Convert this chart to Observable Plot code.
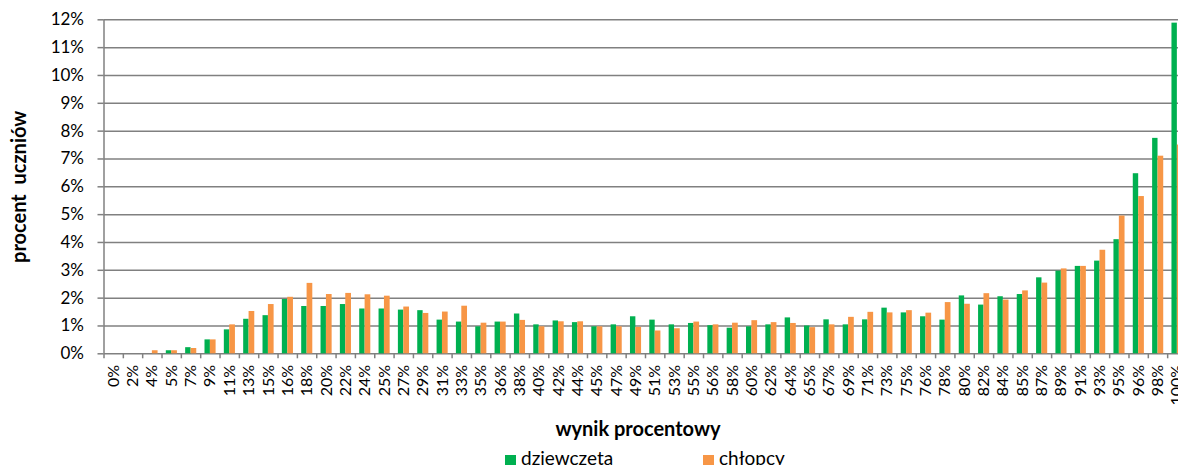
<!DOCTYPE html>
<html>
<head>
<meta charset="utf-8">
<script src="https://cdn.jsdelivr.net/npm/d3@7"></script>
<script src="https://cdn.jsdelivr.net/npm/@observablehq/plot@0.6"></script>
<style>
  html, body { margin: 0; padding: 0; background: #fff; overflow: hidden; width: 1178px; height: 465px; }
  body { font-family: Lato, "Open Sans", sans-serif; position: relative; }
  #chart svg { display: block; max-width: none; }
  .leg { position: absolute; top: 446px; font-size: 19px; color: #000; white-space: nowrap; }
  .leg i { display: inline-block; width: 11px; height: 11px; margin-right: 5px; vertical-align: -1px; }
</style>
</head>
<body>
<div id="chart"></div>
<div class="leg" style="left:505px"><i style="background:#00B050"></i>dziewczeta</div>
<div class="leg" style="left:703px"><i style="background:#F79646"></i>chłopcy</div>
<script>
// ---- data ----
const categories = ["0%","2%","4%","5%","7%","9%","11%","13%","15%","16%","18%","20%","22%","24%","25%","27%","29%","31%","33%","35%","36%","38%","40%","42%","44%","45%","47%","49%","51%","53%","55%","56%","58%","60%","62%","64%","65%","67%","69%","71%","73%","75%","76%","78%","80%","82%","84%","85%","87%","89%","91%","93%","95%","96%","98%","100%"];
const dziewczeta = [0, 0, 0, 0.11, 0.22, 0.50, 0.86, 1.24, 1.37, 1.95, 1.70, 1.70, 1.77, 1.61, 1.61, 1.57, 1.55, 1.21, 1.14, 0.97, 1.14, 1.43, 1.04, 1.18, 1.12, 0.97, 1.04, 1.33, 1.21, 1.04, 1.09, 1.01, 0.92, 0.97, 1.04, 1.29, 1.00, 1.22, 1.04, 1.22, 1.64, 1.47, 1.33, 1.21, 2.08, 1.75, 2.05, 2.13, 2.73, 2.97, 3.14, 3.33, 4.10, 6.47, 7.74, 11.88];
const chlopcy = [0, 0, 0.11, 0.11, 0.19, 0.50, 1.04, 1.52, 1.77, 2.03, 2.53, 2.13, 2.17, 2.12, 2.07, 1.68, 1.45, 1.50, 1.71, 1.10, 1.14, 1.20, 0.97, 1.15, 1.15, 0.97, 0.97, 0.95, 0.82, 0.90, 1.14, 1.04, 1.10, 1.19, 1.12, 1.09, 0.94, 1.04, 1.31, 1.49, 1.47, 1.55, 1.46, 1.84, 1.78, 2.16, 1.93, 2.26, 2.54, 3.05, 3.14, 3.72, 4.95, 5.65, 7.10, 7.50];
const yTicks = [0,1,2,3,4,5,6,7,8,9,10,11,12];
const seriesNames = ["dziewczeta", "chłopcy"];
const seriesColors = ["#00B050", "#F79646"];
const xTitle = "wynik procentowy";
const yTitle = "procent  uczniów";

// ---- layout ----
const W = 1178, H = 440;
const ML = 103.5, MR = -8.5, MT = 19.3, MB = 86.7;
const step = (W - ML - MR) / categories.length;
const grid = "#808080";

const rows = categories.map((c, i) => ({cat: c, dz: dziewczeta[i], ch: chlopcy[i]}));

const chart = Plot.plot({
  width: W,
  height: H,
  marginLeft: ML,
  marginRight: MR,
  marginTop: MT,
  marginBottom: MB,
  style: {fontFamily: "Lato, 'Open Sans', sans-serif", color: "#000", background: "#fff"},
  x: {type: "band", domain: categories, padding: 0, round: false, axis: null},
  y: {domain: [0, 12], axis: null},
  marks: [
    Plot.gridY(yTicks, {stroke: grid, strokeOpacity: 1, strokeWidth: 1.5}),
    Plot.ruleX([categories[0]], {dx: -step / 2, stroke: grid, strokeWidth: 1.5}),
    Plot.axisY({ticks: yTicks, tickFormat: d => d + "%", tickSize: 6, tickPadding: 14, stroke: grid, strokeWidth: 1.5, fontSize: 17, label: null}),
    Plot.axisX({tickSize: 5, tickFormat: () => "", dx: -step / 2, stroke: grid, strokeWidth: 1.5, label: null}),
    Plot.axisX({tickSize: 0, tickRotate: -90, tickPadding: 11, fontSize: 16, label: null}),
    Plot.barY(rows, {x: "cat", y: "dz", fill: seriesColors[0], insetLeft: 4.3, insetRight: step - 9.7}),
    Plot.barY(rows, {x: "cat", y: "ch", fill: seriesColors[1], insetLeft: 9.7, insetRight: step - 15.4}),
    Plot.text([xTitle], {frameAnchor: "bottom", dx: -7.5, dy: 76, fontWeight: "bold", fontSize: 20, lineAnchor: "middle"}),
    Plot.text([yTitle], {frameAnchor: "left", dx: -84, rotate: -90, textAnchor: "middle", lineAnchor: "middle", fontWeight: "bold", fontSize: 20})
  ]
});
document.getElementById("chart").appendChild(chart);
</script>
</body>
</html>
